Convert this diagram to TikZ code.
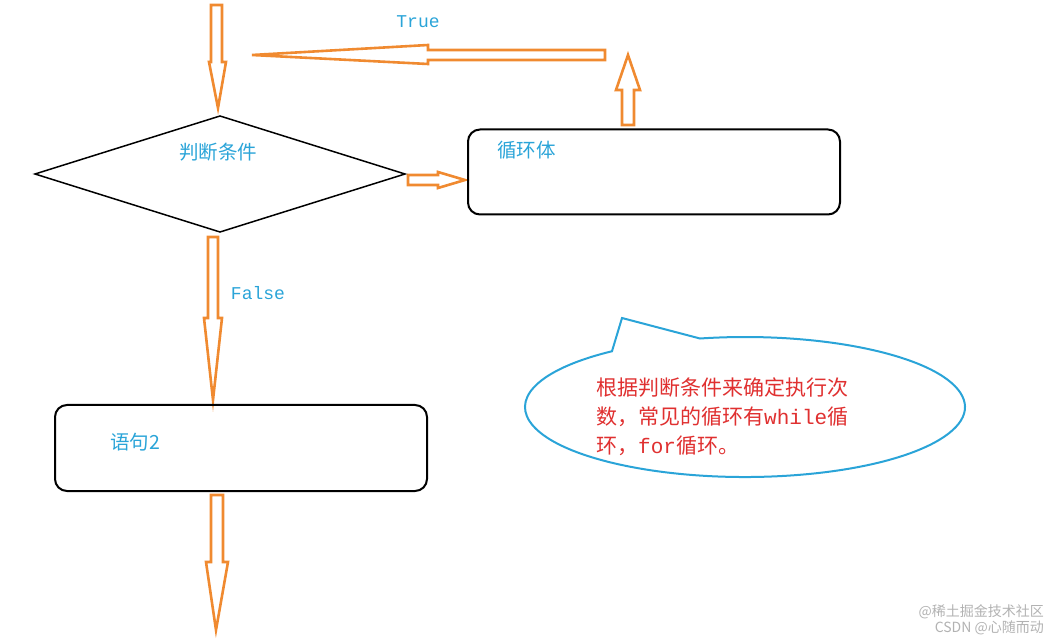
\documentclass[tikz,border=0pt]{standalone}
\usepackage{fontspec}
\setmainfont{Liberation Mono}
\newfontfamily\cjk{Noto Sans CJK SC}
\definecolor{org}{HTML}{F08A30}
\definecolor{cy}{HTML}{2AA4D8}
\definecolor{rd}{HTML}{E03030}
\begin{document}
\begin{tikzpicture}[x=1pt,y=-1pt,
  harrow/.style={draw=org,line width=2.6pt,line join=miter,fill=white},
  box/.style={draw=black,line width=2pt,rounded corners=12pt},
  lbl/.style={text=cy,font=\fontsize{19.5}{22}\selectfont\cjk,anchor=west,inner sep=0pt},
  mono/.style={text=cy,font=\fontsize{18}{20}\selectfont,inner sep=0pt}]
\useasboundingbox (0,0) rectangle (1061,644);
% arrows
\draw[harrow] (211,5) -- (222,5) -- (222,62) -- (226,62) -- (218,108) -- (209,62) -- (211,62) -- cycle;
\draw[harrow] (605,50) -- (428,50) -- (428,45) -- (252,55) -- (428,64) -- (428,60) -- (605,60) -- cycle;
\draw[harrow] (622,125) -- (634,125) -- (634,90) -- (640,90) -- (628,55) -- (616,90) -- (622,90) -- cycle;
\draw[harrow] (408,175) -- (438,175) -- (438,172) -- (465,180) -- (438,188) -- (438,185) -- (408,185) -- cycle;
\draw[harrow] (208,237) -- (218,237) -- (218,318) -- (222,318) -- (213,400) -- (204,318) -- (208,318) -- cycle;
\draw[harrow] (211,495) -- (223,495) -- (223,562) -- (228,562) -- (216,630) -- (206,562) -- (211,562) -- cycle;
% shapes
\draw[line width=1.5pt,line join=miter] (35,174) -- (220,116) -- (405,174) -- (220,232) -- cycle;
\node[box,minimum width=372pt,minimum height=85pt] (loop) at (654,172) {};
\node[box,minimum width=372pt,minimum height=86pt] (s2) at (241,448) {};
\node[lbl,anchor=center] (c) at (218,152) {判断条件};
\node[lbl] (lb) at (497,150) {循环体};
\node[lbl] (sb) at (110,442) {语句2};
\node[mono] (t) at (418,22) {True};
\node[mono] (f) at (258,293) {False};
% callout
\draw[cy,line width=2pt,fill=white] (622,318) -- (700,338.5) arc[start angle=258.2,end angle=592.8,x radius=220,y radius=70] -- cycle;
\node[text=rd,font=\fontsize{21}{29}\selectfont\cjk,align=left,anchor=north west,inner sep=0pt] (n) at (596,378)
 {根据判断条件来确定执行次\\数，常见的循环有{\fontspec{Liberation Mono}while}循\\环，{\fontspec{Liberation Mono}for}循环。};
\node[text=gray!60,font=\fontsize{14}{15}\selectfont\cjk,anchor=east,inner sep=0pt] (w1) at (1044,612) {@稀土掘金技术社区};
\node[text=gray!60,font=\fontsize{14}{15}\selectfont\cjk,anchor=east,inner sep=0pt] (w2) at (1044,628) {CSDN @心随而动};
\end{tikzpicture}
\end{document}
